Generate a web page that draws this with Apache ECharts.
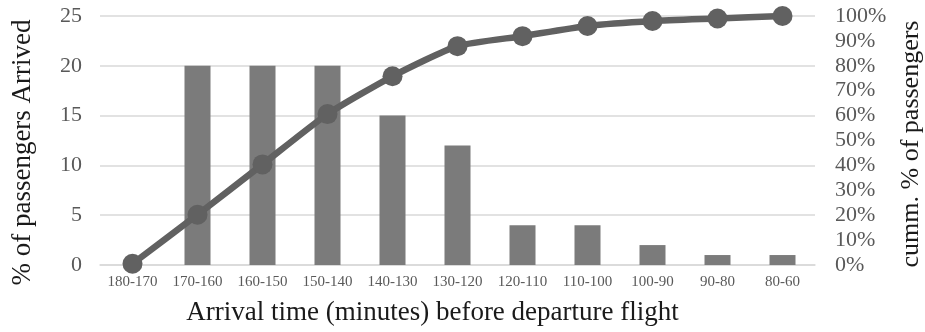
<!DOCTYPE html>
<html>
<head>
<meta charset="utf-8">
<script src="https://cdn.jsdelivr.net/npm/echarts@6/dist/echarts.min.js"></script>
<style>
  html, body { margin: 0; padding: 0; background: #fff; }
  #chart { width: 925px; height: 332px; }
</style>
</head>
<body>
<div id="chart"></div>
<script>
// Arrival-time bins (minutes before departure)
const categories = ['180-170', '170-160', '160-150', '150-140', '140-130', '130-120',
                    '120-110', '110-100', '100-90', '90-80', '80-60'];
// Share of passengers arriving in each bin (%)
const arrivedPct = [0, 20, 20, 20, 15, 12, 4, 4, 2, 1, 1];
// Cumulative share of passengers (%)
const cumulativePct = [0.5, 20.2, 40.4, 60.6, 75.8, 87.9, 91.9, 96.0, 98.0, 99.0, 100];
// Axis tick settings
const leftTicks = { min: 0, max: 25, interval: 5 };
const rightTicks = { min: 0, max: 100, interval: 10 };

const serif = "'Liberation Serif', 'Times New Roman', serif";
const chart = echarts.init(document.getElementById('chart'), null, { renderer: 'canvas' });

chart.setOption({
  animation: false,
  backgroundColor: '#ffffff',
  grid: { left: 100, right: 110, top: 16, bottom: 67, outerBoundsMode: 'none', containLabel: false },
  xAxis: {
    type: 'category',
    data: categories,
    name: 'Arrival time (minutes) before departure flight',
    nameLocation: 'middle',
    nameGap: 34,
    nameTextStyle: { fontFamily: serif, fontSize: 27, color: '#1a1a1a', padding: [0, 50, 0, 0] },
    axisLine: { lineStyle: { color: '#d9d9d9', width: 1.5 } },
    axisTick: { show: false },
    axisLabel: { interval: 0, margin: 10, fontFamily: serif, fontSize: 15, color: '#595959' }
  },
  yAxis: [
    {
      type: 'value',
      min: leftTicks.min, max: leftTicks.max, interval: leftTicks.interval,
      name: '% of passengers Arrived',
      nameLocation: 'middle',
      nameRotate: 90,
      nameGap: 64,
      nameTextStyle: { fontFamily: serif, fontSize: 27, color: '#1a1a1a', padding: [0, 24, 0, 0] },
      axisLine: { show: false },
      axisTick: { show: false },
      axisLabel: { margin: 18, fontFamily: serif, fontSize: 22, color: '#595959' },
      splitLine: { lineStyle: { color: '#d9d9d9', width: 1.5 } }
    },
    {
      type: 'value',
      position: 'right',
      min: rightTicks.min, max: rightTicks.max, interval: rightTicks.interval,
      name: 'cumm. % of passengers',
      nameLocation: 'middle',
      nameRotate: 90,
      nameGap: 83,
      nameTextStyle: { fontFamily: serif, fontSize: 26, color: '#1a1a1a', padding: [0, 7, 0, 0] },
      axisLine: { show: false },
      axisTick: { show: false },
      axisLabel: { margin: 20, fontFamily: serif, fontSize: 22, color: '#595959', formatter: '{value}%' },
      splitLine: { show: false }
    }
  ],
  series: [
    {
      type: 'bar',
      data: arrivedPct,
      yAxisIndex: 0,
      barWidth: 26,
      itemStyle: { color: '#7b7b7b' }
    },
    {
      type: 'line',
      data: cumulativePct,
      yAxisIndex: 1,
      smooth: 0.2,
      symbol: 'circle',
      symbolSize: 20,
      lineStyle: { color: '#616161', width: 6.5 },
      itemStyle: { color: '#616161' },
      z: 5
    }
  ]
});
</script>
</body>
</html>
